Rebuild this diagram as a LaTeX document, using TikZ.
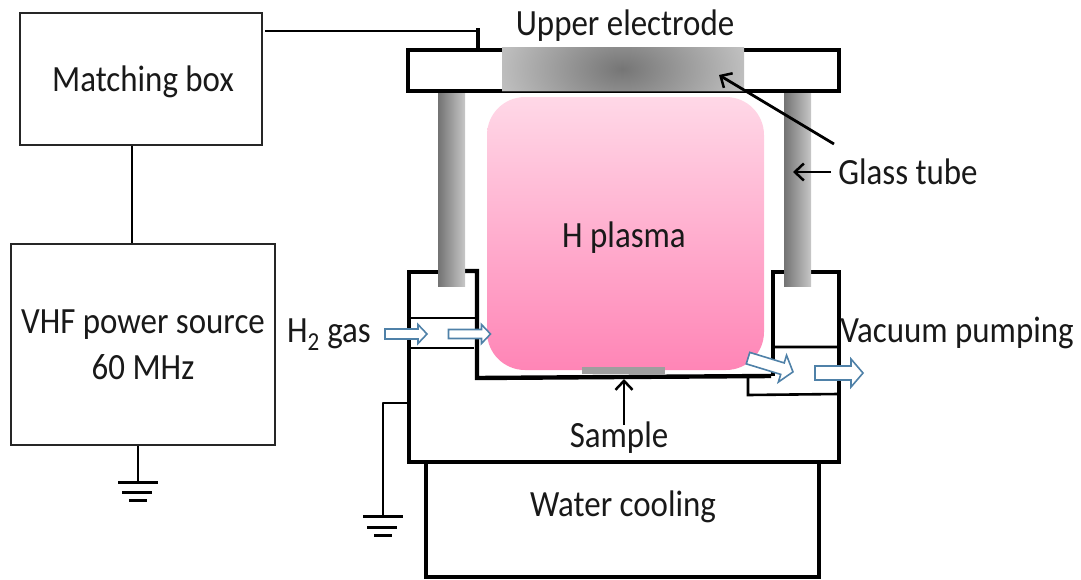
\documentclass[tikz,border=0pt]{standalone}
\usepackage{fontspec}
\setmainfont[FakeStretch=0.89]{Carlito}
\usetikzlibrary{arrows.meta}
\definecolor{flowblue}{HTML}{4F81A8}
\definecolor{plasmatop}{HTML}{FFD8E7}
\definecolor{plasmabot}{HTML}{FF85B6}
\tikzset{
  x=1pt,y=-1pt,
  thinbox/.style={draw=black!85,line width=2pt,fill=white,inner sep=0pt},
  wire/.style={draw=black,line width=2.7pt},
  wall/.style={draw=black,line width=4.4pt,line join=miter,line cap=square},
  chan/.style={draw=black,line width=2.6pt},
  lab/.style={font=\fontsize{37}{42}\selectfont,inner sep=0pt,text=black!90},
  point/.style={draw=black,line width=2.8pt,-{Straight Barb[length=9pt,width=17pt,line width=2.5pt]}},
  tube/.style={left color=black!55,right color=black!22,draw=none},
  flowshape/.style={draw=flowblue,fill=white,line width=1.6pt,line join=miter},
  pics/flowarrow/.style n args={4}{code={
    % #1 half length, #2 half shaft, #3 half head, #4 head length
    \path[flowshape] (-#1,-#2) -- ({#1-#4},-#2) -- ({#1-#4},-#3) -- (#1,0)
      -- ({#1-#4},#3) -- ({#1-#4},#2) -- (-#1,#2) -- cycle;
  }},
}
\begin{document}
\begin{tikzpicture}
\useasboundingbox (0,0) rectangle (1081,579);
% boxes
\node[thinbox,minimum width=242pt,minimum height=132pt] (match) at (141,79) {};
\node[thinbox,minimum width=264pt,minimum height=201pt] (vhf) at (143,344.5) {};
\node[lab] (matchtext) at (143,82) {Matching box};
\node[lab] (vhftext1) at (143,325) {VHF power source};
\node[lab] (vhftext2) at (143,367) {60 MHz};
\coordinate (mv) at (132,145);
\draw[wire] (match.south -| mv) -- (vhf.north -| mv);
% ground of the source
\coordinate (g1) at (138,482);
\draw[wire] (vhf.south -| g1) -- (g1);
\draw[line width=3pt] (118,482) -- (158,482) (122,492) -- (152,492) (129,500) -- (147,500);
% plasma
\path[top color=plasmatop,bottom color=plasmabot,rounded corners=38pt] (487,97) rectangle (764,370);
% lower chamber
\draw[wall] (438,272) -- (409,272) -- (409,462) -- (839,462) -- (839,272) -- (773,272) -- (773,376);
\draw[wall] (465,271) -- (477,271) -- (477,378) -- (620,377) -- (771,376);
% channels
\draw[chan] (410,318) -- (476,318) (410,348) -- (474,348);
\draw[chan] (773,347) -- (838,347) (748,376) -- (748,395) -- (838,394);
% cooling
\draw[wall] (426,462) -- (426,577) -- (819,577) -- (819,462);
% top plate
\draw[wall] (408,50) rectangle (839,91);
\begin{scope}
\clip (502,47) rectangle (744,91);
\fill[black!24] (502,47) rectangle (744,91);
\shade[inner color=black!54,outer color=black!24] (622,69) ellipse (128pt and 75pt);
\end{scope}
\draw[black!80,line width=1pt] (502,91) -- (744,91);
% tubes
\path[tube] (438,93) rectangle (465,286);
\path[tube] (784,93) rectangle (811,286);
% sample
\fill[black!38] (582,367) rectangle (665,374);
% rf wire
\coordinate (w1) at (265,31);
\coordinate (w2) at (478,31);
\coordinate (w3) at (478,49);
\draw[wire] (w1) -- (w2);
\draw[line width=3.4pt] (478,28) -- (w3);
% ground of the chamber
\coordinate (c1) at (408,403);
\coordinate (c2) at (383,403);
\coordinate (c3) at (383,516);
\draw[wire,line join=round] (c1) -- (c2) -- (c3);
\draw[line width=3pt] (363,516) -- (403,516) (367,527) -- (397,527) (374,535) -- (392,535);
% flow arrows
\pic (f1) at (406,334) {flowarrow={21}{5}{9.5}{9}};
\pic (f2) at (469.5,334) {flowarrow={21}{4.5}{9.5}{9}};
\pic[rotate=-17] (f3) at (770.5,365) {flowarrow={23.5}{6}{14}{11}};
\pic (f4) at (839,373) {flowarrow={24}{7}{14}{12}};
% labels
\node[lab] (upper) at (625,26) {Upper electrode};
\node[lab] (plasma) at (624,238) {H plasma};
\node[lab] (gas) at (329,335) {H\textsubscript{2} gas};
\node[lab] (vac) at (957,333) {Vacuum pumping};
\node[lab] (glass) at (908,172) {Glass tube};
\node[lab] (sample) at (619,438) {Sample};
\node[lab] (water) at (623,507) {Water cooling};
% pointers
\coordinate (ptube) at (793,172);
\coordinate (pelec) at (719,75);
\coordinate (psamp) at (624,379);
\coordinate (gtail) at (831,172);
\coordinate (stail) at (624,425);
\draw[point] (gtail) -- (ptube);
\draw[point] (834,144) -- (pelec);
\draw[point] (stail) -- (psamp);
\end{tikzpicture}
\end{document}
